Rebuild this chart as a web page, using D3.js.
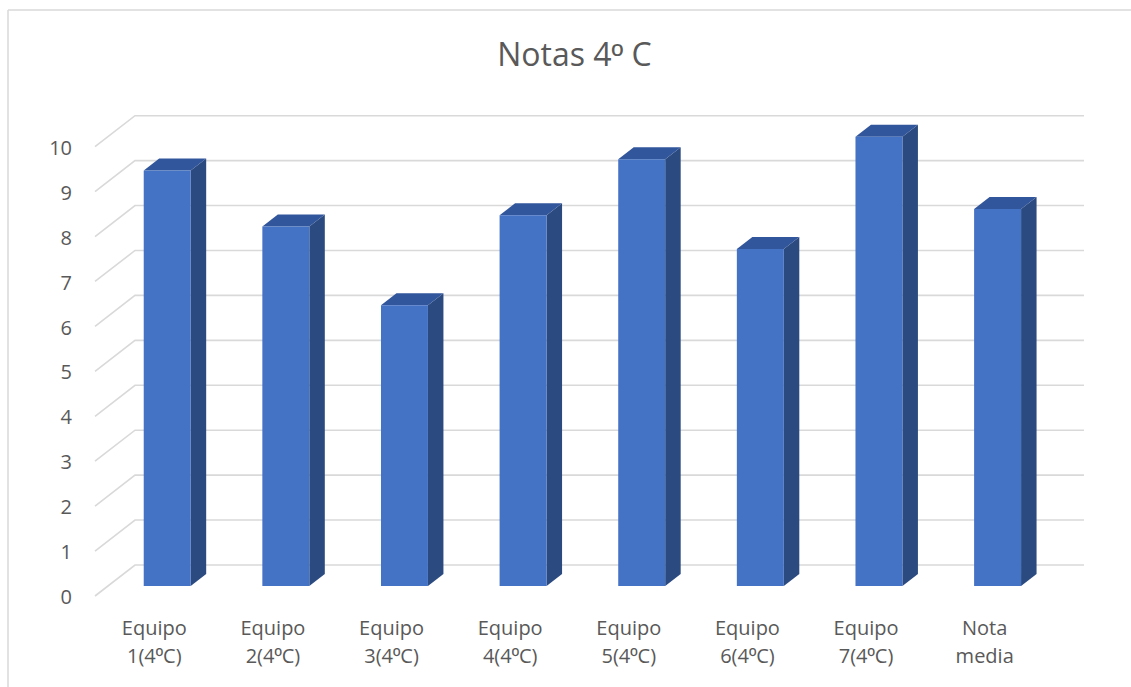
<!DOCTYPE html>
<html>
<head>
<meta charset="utf-8">
<script src="https://cdn.jsdelivr.net/npm/d3@7"></script>
<style>
  html, body { margin: 0; padding: 0; background: #fff; }
  svg { display: block; font-family: "Open Sans", "Noto Sans", sans-serif; }
</style>
</head>
<body>
<svg id="chart" width="1131" height="687"></svg>
<script>
// Chart data
const title = "Notas 4º C";
const categories = [
  ["Equipo", "1(4ºC)"],
  ["Equipo", "2(4ºC)"],
  ["Equipo", "3(4ºC)"],
  ["Equipo", "4(4ºC)"],
  ["Equipo", "5(4ºC)"],
  ["Equipo", "6(4ºC)"],
  ["Equipo", "7(4ºC)"],
  ["Nota", "media"]
];
const values = [9.25, 8, 6.25, 8.25, 9.5, 7.5, 10, 8.39];
const yTicks = [0, 1, 2, 3, 4, 5, 6, 7, 8, 9, 10];

// Layout
const W = 1131, H = 687;
const frontLeft = 95, frontRight = 1044;   // floor front edge
const floorY = 596;                        // front edge y at value 0
const depthDX = 40, depthDY = -31;         // oblique offset front -> back wall
const barZ0 = 10 / 31, barZ1 = 22 / 31;    // bar front / back depth fraction
const textColor = "#595959";

const svg = d3.select("#chart");

// Writes a string into a text/tspan node; the ordinal sign "º" is set in a
// face whose glyph carries the underline bar.
function writeText(sel, str) {
  str.split(/(º)/).filter(s => s.length).forEach(part => {
    const t = sel.append("tspan").text(part);
    if (part === "º") t.attr("font-family", "'Liberation Sans', 'DejaVu Sans', sans-serif");
  });
}

const keys = categories.map((c, i) => String(i));
const x = d3.scaleBand()
  .domain(keys)
  .range([frontLeft, frontRight])
  .paddingInner(0.604)
  .paddingOuter(0.302);
const xCat = d3.scaleBand().domain(keys).range([frontLeft, frontRight]);

const y = d3.scaleLinear().domain([0, 10]).range([floorY, floorY - 449.3]);

// project (screen x at front, value, depth) to screen point
const P = (sx, v, z) => [sx + z * depthDX, y(v) + z * depthDY];

// Chart frame
svg.append("line").attr("x1", 8).attr("y1", 10).attr("x2", W).attr("y2", 10)
  .attr("stroke", "#d9d9d9").attr("stroke-width", 1.5);
svg.append("line").attr("x1", 8).attr("y1", 10).attr("x2", 8).attr("y2", H)
  .attr("stroke", "#d9d9d9").attr("stroke-width", 1.5);

// Title
const titleText = svg.append("text")
  .attr("x", 574.5).attr("y", 66)
  .attr("text-anchor", "middle")
  .attr("font-size", 32)
  .attr("fill", textColor);
writeText(titleText, title);

// Gridlines: left-wall diagonal + back-wall horizontal
const grid = svg.append("g").attr("stroke", "#d9d9d9").attr("stroke-width", 1.6).attr("fill", "none");
yTicks.forEach(t => {
  const a = P(frontLeft, t, 0), b = P(frontLeft, t, 1), c = P(frontRight, t, 1);
  grid.append("path").attr("d", d3.line()([a, b, c]));
});

// Value axis labels
const yAxis = d3.axisLeft(y).tickValues(yTicks).tickSize(0).tickPadding(8);
const gy = svg.append("g").attr("transform", "translate(80,0)").call(yAxis);
gy.select(".domain").remove();
gy.selectAll("text").attr("font-size", 20).attr("fill", textColor)
  .attr("font-family", "'Open Sans', 'Noto Sans', sans-serif").attr("dy", "0.38em");

// Bars (front, top, side faces)
const bars = svg.append("g");
values.forEach((v, i) => {
  const x0 = x(String(i)), x1 = x0 + x.bandwidth();
  const g = bars.append("g");
  const f = [P(x0, 0, barZ0), P(x1, 0, barZ0), P(x1, v, barZ0), P(x0, v, barZ0)];
  const top = [P(x0, v, barZ0), P(x1, v, barZ0), P(x1, v, barZ1), P(x0, v, barZ1)];
  const side = [P(x1, 0, barZ0), P(x1, 0, barZ1), P(x1, v, barZ1), P(x1, v, barZ0)];
  g.append("path").attr("d", d3.line()(side) + "Z").attr("fill", "#2B4A80");
  g.append("path").attr("d", d3.line()(top) + "Z").attr("fill", "#32569B");
  g.append("path").attr("d", d3.line()(f) + "Z").attr("fill", "#4472C4");
});

// Category labels
const labels = svg.append("g").attr("fill", textColor).attr("font-size", 20).attr("text-anchor", "middle");
categories.forEach((c, i) => {
  const cx = xCat(String(i)) + xCat.bandwidth() / 2;
  const l1 = labels.append("text").attr("x", cx).attr("y", 635);
  writeText(l1, c[0]);
  const l2 = labels.append("text").attr("x", cx).attr("y", 663);
  writeText(l2, c[1]);
});
</script>
</body>
</html>
